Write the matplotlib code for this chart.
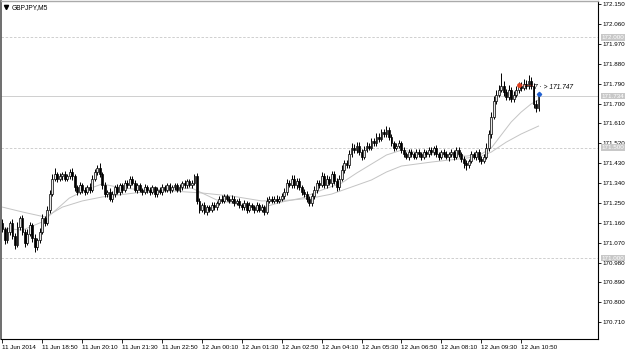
import numpy as np
import matplotlib
matplotlib.use("Agg")
import matplotlib.pyplot as plt

plt.rcParams['font.family'] = ['Liberation Sans', 'DejaVu Sans']

# GBPJPY M5 closes, one per bar, from 11 Jun 17:30 to 12 Jun 11:25
closes = [
    171.13, 171.08, 171.12, 171.16, 171.10, 171.06, 171.14, 171.18, 171.12, 171.07,
    171.11, 171.15, 171.09, 171.05, 171.08, 171.12, 171.18, 171.16, 171.22, 171.29,
    171.36, 171.38, 171.36, 171.37, 171.38, 171.36, 171.37, 171.39, 171.37, 171.32,
    171.30, 171.33, 171.31, 171.30, 171.32, 171.31, 171.36, 171.39, 171.41, 171.38,
    171.33, 171.29, 171.30, 171.27, 171.29, 171.32, 171.30, 171.33, 171.31, 171.34,
    171.33, 171.36, 171.34, 171.31, 171.33, 171.31, 171.30, 171.32, 171.31, 171.30,
    171.32, 171.29, 171.31, 171.30, 171.32, 171.31, 171.33, 171.31, 171.32, 171.33,
    171.31, 171.32, 171.34, 171.33, 171.35, 171.33, 171.34, 171.37, 171.26, 171.22,
    171.24, 171.21, 171.23, 171.22, 171.24, 171.23, 171.25, 171.27, 171.26, 171.28,
    171.27, 171.26, 171.27, 171.25, 171.26, 171.24, 171.23, 171.25, 171.22, 171.24,
    171.23, 171.22, 171.24, 171.22, 171.23, 171.21, 171.26, 171.27, 171.26, 171.27,
    171.26, 171.27, 171.28, 171.30, 171.34, 171.33, 171.36, 171.33, 171.35, 171.32,
    171.30, 171.29, 171.27, 171.25, 171.28, 171.31, 171.34, 171.33, 171.37, 171.33,
    171.36, 171.34, 171.38, 171.35, 171.32, 171.36, 171.40, 171.43, 171.42, 171.47,
    171.50, 171.49, 171.51, 171.48, 171.46, 171.49, 171.51, 171.50, 171.53, 171.52,
    171.55, 171.54, 171.57, 171.56, 171.58, 171.55, 171.52, 171.50, 171.51, 171.52,
    171.49, 171.47, 171.46, 171.48, 171.47, 171.46, 171.48, 171.47, 171.46, 171.48,
    171.47, 171.49, 171.48, 171.50, 171.47, 171.46, 171.48, 171.47, 171.46, 171.47,
    171.48, 171.46, 171.49, 171.47, 171.45, 171.43, 171.42, 171.44, 171.47, 171.46,
    171.48, 171.45, 171.44, 171.46, 171.50, 171.56, 171.64, 171.71, 171.74, 171.76,
    171.78, 171.75, 171.73, 171.76, 171.72, 171.74, 171.76, 171.78, 171.77, 171.79,
    171.78, 171.80, 171.78, 171.70, 171.68, 171.734,
]
first_open = 171.16

# wick lengths in points (0.001)
wick_up = [
    15, 12, 20, 10, 18, 14, 22, 10, 16, 12, 20, 14, 10, 18, 12, 15, 20, 10,
    14, 18, 20, 30, 12, 16, 10, 14, 12, 15, 20, 10, 12, 16, 10, 14, 12, 18,
    15, 12, 10, 20, 12, 14, 10, 16, 12, 10, 14, 12, 10, 15, 12, 10, 14, 12,
    10, 12, 8, 14, 10, 12, 10, 8, 12, 10, 14, 10, 12, 8, 10, 12, 10, 14,
    10, 12, 8, 10, 12, 10, 14, 12, 10, 15, 12, 10, 14, 12, 10, 12, 15, 10,
    12, 10, 14, 12, 10, 12, 10, 14, 10, 12, 8, 10, 12, 10, 14, 12, 16, 10,
    12, 10, 14, 12, 15, 18, 20, 14, 18, 16, 12, 14, 10, 12, 14, 12, 16, 18,
    14, 16, 20, 15, 18, 12, 16, 14, 12, 16, 20, 15, 14, 18, 20, 15, 18, 14,
    12, 16, 14, 12, 16, 14, 18, 15, 16, 14, 20, 12, 14, 10, 12, 14, 10, 12,
    10, 12, 14, 10, 12, 15, 10, 12, 10, 14, 12, 10, 14, 12, 10, 12, 14, 10,
    12, 10, 14, 12, 10, 12, 14, 10, 14, 12, 10, 12, 14, 10, 20, 18, 22, 25,
    20, 25, 60, 20, 18, 22, 15, 18, 20, 16, 18, 20, 15, 30, 18, 12, 15, 14,
]
wick_dn = [
    12, 18, 10, 14, 15, 20, 10, 12, 16, 18, 12, 10, 15, 22, 14, 12, 10, 14,
    12, 14, 10, 12, 16, 10, 14, 12, 10, 12, 14, 18, 12, 10, 14, 12, 10, 14,
    12, 10, 14, 12, 18, 14, 12, 10, 14, 12, 10, 12, 14, 10, 12, 14, 10, 12,
    14, 10, 12, 10, 14, 12, 10, 12, 14, 10, 12, 10, 12, 14, 10, 12, 10, 12,
    10, 12, 14, 10, 12, 10, 14, 15, 12, 10, 14, 12, 10, 12, 14, 10, 12, 10,
    12, 10, 12, 14, 10, 12, 10, 12, 14, 10, 12, 14, 10, 12, 10, 15, 10, 12,
    10, 12, 10, 12, 10, 14, 12, 10, 14, 12, 16, 12, 14, 12, 16, 14, 12, 10,
    14, 12, 10, 14, 12, 10, 16, 14, 18, 12, 10, 14, 12, 10, 12, 14, 16, 12,
    14, 12, 10, 12, 10, 12, 10, 12, 10, 12, 10, 14, 12, 14, 12, 10, 12, 14,
    12, 14, 10, 12, 10, 12, 14, 10, 12, 10, 12, 14, 10, 16, 12, 14, 10, 18,
    12, 14, 10, 12, 16, 20, 22, 14, 10, 12, 14, 16, 12, 10, 12, 14, 16, 12,
    14, 12, 10, 14, 16, 12, 14, 12, 10, 14, 12, 10, 14, 12, 16, 20, 18, 14,
]

# moving averages (bar index, price)
ma_fast_bars = [0, 8, 16, 20, 26.8, 33.2, 40, 46, 56, 68, 76, 80, 86, 96, 104.8, 112, 120,
                128, 136, 142, 148, 154, 160, 168, 178, 186, 192, 196, 200, 204, 208, 212, 215]
ma_fast = [171.136, 171.127, 171.164, 171.204, 171.272, 171.308, 171.336, 171.322, 171.308,
           171.313, 171.317, 171.295, 171.263, 171.240, 171.231, 171.254, 171.272, 171.308,
           171.340, 171.385, 171.426, 171.467, 171.489, 171.476, 171.467, 171.462, 171.471,
           171.498, 171.557, 171.616, 171.661, 171.698, 171.716]
ma_slow_bars = [0, 8, 17.2, 24, 32, 40, 56, 68, 80, 92, 104, 116, 124, 132, 140, 148, 154,
                160, 172, 186, 192, 196, 202, 208, 215]
ma_slow = [171.231, 171.209, 171.186, 171.231, 171.259, 171.277, 171.299, 171.304, 171.295,
           171.281, 171.259, 171.263, 171.272, 171.290, 171.322, 171.354, 171.390, 171.417,
           171.435, 171.453, 171.462, 171.480, 171.525, 171.562, 171.598]

price_ticks = [172.150, 172.060, 171.970, 171.880, 171.790, 171.700, 171.610, 171.520,
               171.430, 171.340, 171.250, 171.160, 171.070, 170.980, 170.890, 170.800, 170.710]
level_lines = [172.000, 171.500, 171.000]
bid = 171.734

time_ticks = list(range(0, 209, 16))
time_labels = ["11 Jun 2014", "11 Jun 18:50", "11 Jun 20:10", "11 Jun 21:30", "11 Jun 22:50",
               "12 Jun 00:10", "12 Jun 01:30", "12 Jun 02:50", "12 Jun 04:10", "12 Jun 05:30",
               "12 Jun 06:50", "12 Jun 08:10", "12 Jun 09:30", "12 Jun 10:50"]

closes = np.array(closes)
opens = np.array([first_open] + list(closes[:-1]))
highs = np.maximum(opens, closes) + np.array(wick_up) / 1000
lows = np.minimum(opens, closes) - np.array(wick_dn) / 1000
x = np.arange(len(closes))

fs = 4.5

fig = plt.figure(figsize=(6.25, 3.52), dpi=100)
ax = fig.add_axes([0.0016, 0.037, 0.955, 0.96])

for lv in level_lines:
    ax.axhline(lv, color="#c8c8c8", lw=0.6, ls=(0, (3, 2)), zorder=1)
ax.axhline(bid, color="#c8c8c8", lw=0.6, zorder=1)

ax.plot(ma_slow_bars, ma_slow, color="#c4c4c4", lw=0.7, zorder=2)
ax.plot(ma_fast_bars, ma_fast, color="#c4c4c4", lw=0.7, zorder=2)

ax.vlines(x, lows, highs, color="black", lw=0.7, zorder=3)
up = closes >= opens
body_lo = np.minimum(opens, closes)
body_h = np.maximum(np.abs(closes - opens), 0.002)
ax.bar(x[up], body_h[up], bottom=body_lo[up], width=0.75, color="#e8e8e8",
       edgecolor="black", linewidth=0.5, zorder=4)
ax.bar(x[~up], body_h[~up], bottom=body_lo[~up], width=0.75, color="black",
       edgecolor="black", linewidth=0.5, zorder=4)

# order marker and label
ax.plot([207, 213], [171.785, 171.78], color="#e04020", lw=0.6, ls=(0, (1, 1)), zorder=5)
ax.plot(207, 171.785, "o", color="#e04020", ms=2.5, zorder=6)
ax.plot(215, 171.742, "D", color="#2060d0", ms=2.2, zorder=6)
ax.text(213, 171.772, "7 \u00b7 > 171.747", fontsize=fs + 0.3, style="italic", color="black",
        va="center", ha="left", zorder=6)

ax.set_xlim(-0.6, 238.8)
ax.set_ylim(170.634, 172.164)

ax.yaxis.tick_right()
ax.set_yticks(price_ticks)
ax.set_yticklabels([f"{p:.3f}" for p in price_ticks])
ax.tick_params(axis="y", length=2.5, width=0.6, pad=1, labelsize=fs, colors="black")
ax.set_xticks(time_ticks)
ax.set_xticklabels(time_labels, ha="left")
ax.tick_params(axis="x", length=3, width=0.6, pad=1.5, labelsize=fs)

for lv in level_lines + [bid]:
    ax.text(1.006, lv, f"{lv:.3f}", transform=ax.get_yaxis_transform(), fontsize=fs,
            color="white", va="center", ha="left",
            bbox=dict(boxstyle="square,pad=0.12", fc="#c8c8c8", ec="none"), clip_on=False)

for side in ["right", "bottom"]:
    ax.spines[side].set_color("black")
    ax.spines[side].set_linewidth(0.8)
ax.spines["left"].set_color("#555555")
ax.spines["left"].set_linewidth(1.2)
ax.spines["top"].set_color("#aaaaaa")
ax.spines["top"].set_linewidth(1.0)

ax.plot(0.009, 0.982, marker="v", color="black", ms=3, transform=ax.transAxes, clip_on=False)
ax.text(0.018, 0.982, "GBPJPY,M5", transform=ax.transAxes, fontsize=fs + 0.3,
        va="center", ha="left")

fig.savefig("out.png", dpi=100)
